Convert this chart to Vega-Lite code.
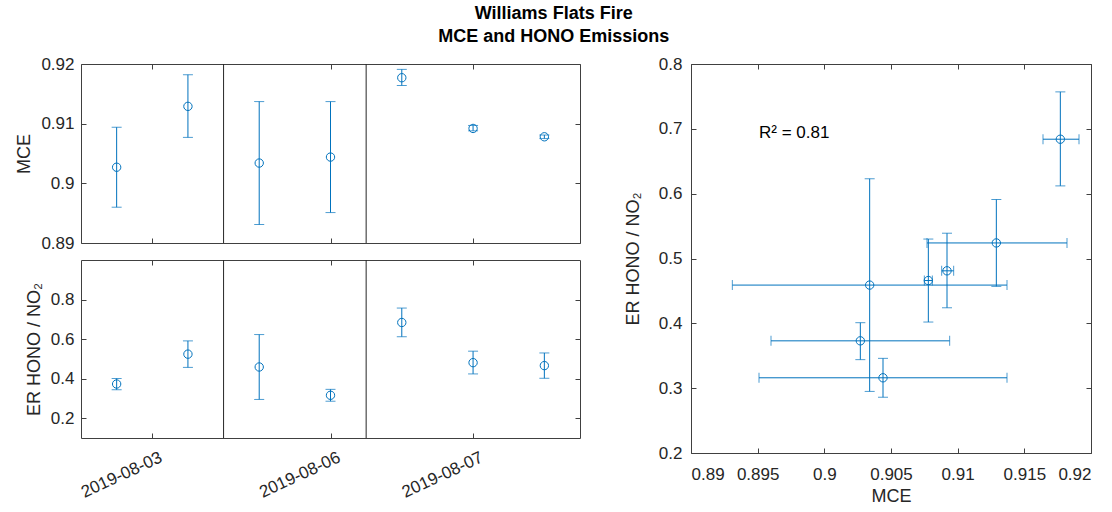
{
  "$schema": "https://vega.github.io/schema/vega-lite/v6.json",
  "title": {"text": ["Williams Flats Fire", "MCE and HONO Emissions"], "fontSize": 18, "fontWeight": "bold", "font": "Liberation Sans", "color": "#000000", "lineHeight": 23, "anchor": "middle", "offset": 9},
  "padding": {"left": 15, "right": 8, "top": 4, "bottom": 4},
  "datasets": {
    "samples": [
      {"sample": 1, "date": "2019-08-03", "mce": 0.9027, "mce_lo": 0.8960, "mce_hi": 0.9094, "er": 0.373, "er_lo": 0.344, "er_hi": 0.401},
      {"sample": 2, "date": "2019-08-03", "mce": 0.9129, "mce_lo": 0.9077, "mce_hi": 0.9182, "er": 0.524, "er_lo": 0.457, "er_hi": 0.591},
      {"sample": 3, "date": "2019-08-06", "mce": 0.9034, "mce_lo": 0.8931, "mce_hi": 0.9137, "er": 0.459, "er_lo": 0.295, "er_hi": 0.623},
      {"sample": 4, "date": "2019-08-06", "mce": 0.9044, "mce_lo": 0.8951, "mce_hi": 0.9137, "er": 0.316, "er_lo": 0.286, "er_hi": 0.346},
      {"sample": 5, "date": "2019-08-07", "mce": 0.9177, "mce_lo": 0.9164, "mce_hi": 0.9191, "er": 0.684, "er_lo": 0.612, "er_hi": 0.757},
      {"sample": 6, "date": "2019-08-07", "mce": 0.9092, "mce_lo": 0.9088, "mce_hi": 0.9097, "er": 0.481, "er_lo": 0.424, "er_hi": 0.539},
      {"sample": 7, "date": "2019-08-07", "mce": 0.9078, "mce_lo": 0.9075, "mce_hi": 0.9081, "er": 0.466, "er_lo": 0.402, "er_hi": 0.530}
    ]
  },
  "hconcat": [
    {
      "spacing": 7,
      "vconcat": [
        {
          "width": 499,
          "height": 179,
          "data": {"name": "samples"},
          "resolve": {"axis": {"x": "independent", "y": "independent"}},
          "layer": [
            {
              "data": {"values": [{}]},
              "mark": {"type": "rule", "color": "#262626", "strokeWidth": 1},
              "encoding": {"x": {"datum": 2.5, "type": "quantitative", "scale": {"domain": [0.5, 7.5], "nice": false}, "axis": null}}
            },
            {
              "data": {"values": [{}]},
              "mark": {"type": "rule", "color": "#262626", "strokeWidth": 1},
              "encoding": {"x": {"datum": 4.5, "type": "quantitative", "scale": {"domain": [0.5, 7.5], "nice": false}, "axis": null}}
            },
            {
              "mark": {"type": "rule", "color": "#0072BD", "strokeWidth": 1},
              "encoding": {
                "x": {"field": "sample", "type": "quantitative", "scale": {"domain": [0.5, 7.5], "nice": false}, "axis": null},
                "y": {"field": "mce_lo", "type": "quantitative", "scale": {"domain": [0.89, 0.92], "nice": false, "zero": false}, "axis": null},
                "y2": {"field": "mce_hi"}
              }
            },
            {
              "mark": {"type": "tick", "orient": "horizontal", "size": 10, "thickness": 1, "color": "#0072BD"},
              "encoding": {
                "x": {"field": "sample", "type": "quantitative", "scale": {"domain": [0.5, 7.5], "nice": false}, "axis": null},
                "y": {"field": "mce_lo", "type": "quantitative", "scale": {"domain": [0.89, 0.92], "nice": false, "zero": false}, "axis": null}
              }
            },
            {
              "mark": {"type": "tick", "orient": "horizontal", "size": 10, "thickness": 1, "color": "#0072BD"},
              "encoding": {
                "x": {"field": "sample", "type": "quantitative", "scale": {"domain": [0.5, 7.5], "nice": false}, "axis": {"orient": "top", "values": [1.5, 4, 6], "labels": false, "title": null}},
                "y": {"field": "mce_hi", "type": "quantitative", "scale": {"domain": [0.89, 0.92], "nice": false, "zero": false}, "axis": {"orient": "right", "values": [0.89, 0.9, 0.91, 0.92], "labels": false, "title": null}}
              }
            },
            {
              "mark": {"type": "point", "shape": "circle", "filled": false, "size": 70, "strokeWidth": 1, "color": "#0072BD", "opacity": 1},
              "encoding": {
                "x": {"field": "sample", "type": "quantitative", "scale": {"domain": [0.5, 7.5], "nice": false}, "axis": {"orient": "bottom", "values": [1.5, 4, 6], "labels": false, "title": null}},
                "y": {"field": "mce", "type": "quantitative", "scale": {"domain": [0.89, 0.92], "nice": false, "zero": false}, "axis": {"orient": "left", "values": [0.89, 0.9, 0.91, 0.92], "format": ".2~f", "title": "MCE", "labelPadding": 12, "titlePadding": 7}}
              }
            }
          ]
        },
        {
          "width": 499,
          "height": 178,
          "data": {"name": "samples"},
          "resolve": {"axis": {"x": "independent", "y": "independent"}},
          "layer": [
            {
              "data": {"values": [{}]},
              "mark": {"type": "rule", "color": "#262626", "strokeWidth": 1},
              "encoding": {"x": {"datum": 2.5, "type": "quantitative", "scale": {"domain": [0.5, 7.5], "nice": false}, "axis": null}}
            },
            {
              "data": {"values": [{}]},
              "mark": {"type": "rule", "color": "#262626", "strokeWidth": 1},
              "encoding": {"x": {"datum": 4.5, "type": "quantitative", "scale": {"domain": [0.5, 7.5], "nice": false}, "axis": null}}
            },
            {
              "mark": {"type": "rule", "color": "#0072BD", "strokeWidth": 1},
              "encoding": {
                "x": {"field": "sample", "type": "quantitative", "scale": {"domain": [0.5, 7.5], "nice": false}, "axis": null},
                "y": {"field": "er_lo", "type": "quantitative", "scale": {"domain": [0.1, 1.0], "nice": false, "zero": false}, "axis": null},
                "y2": {"field": "er_hi"}
              }
            },
            {
              "mark": {"type": "tick", "orient": "horizontal", "size": 10, "thickness": 1, "color": "#0072BD"},
              "encoding": {
                "x": {"field": "sample", "type": "quantitative", "scale": {"domain": [0.5, 7.5], "nice": false}, "axis": null},
                "y": {"field": "er_lo", "type": "quantitative", "scale": {"domain": [0.1, 1.0], "nice": false, "zero": false}, "axis": null}
              }
            },
            {
              "mark": {"type": "tick", "orient": "horizontal", "size": 10, "thickness": 1, "color": "#0072BD"},
              "encoding": {
                "x": {"field": "sample", "type": "quantitative", "scale": {"domain": [0.5, 7.5], "nice": false}, "axis": {"orient": "top", "values": [1.5, 4, 6], "labels": false, "title": null}},
                "y": {"field": "er_hi", "type": "quantitative", "scale": {"domain": [0.1, 1.0], "nice": false, "zero": false}, "axis": {"orient": "right", "values": [0.2, 0.4, 0.6, 0.8], "labels": false, "title": null}}
              }
            },
            {
              "mark": {"type": "point", "shape": "circle", "filled": false, "size": 70, "strokeWidth": 1, "color": "#0072BD", "opacity": 1},
              "encoding": {
                "x": {"field": "sample", "type": "quantitative", "scale": {"domain": [0.5, 7.5], "nice": false}, "axis": {"orient": "bottom", "values": [1.5, 4, 6], "labelExpr": "datum.value == 1.5 ? '2019-08-03' : datum.value == 4 ? '2019-08-06' : '2019-08-07'", "labelAngle": -25, "labelAlign": "right", "labelBaseline": "top", "labelPadding": 16, "labelOffset": 5, "title": null}},
                "y": {"field": "er", "type": "quantitative", "scale": {"domain": [0.1, 1.0], "nice": false, "zero": false}, "axis": {"orient": "left", "values": [0.2, 0.4, 0.6, 0.8], "format": ".1f", "title": "ER HONO / NO₂", "labelPadding": 12, "titlePadding": 7}}
              }
            }
          ]
        }
      ]
    },
    {
      "width": 400,
      "height": 389,
      "data": {"name": "samples"},
      "resolve": {"axis": {"x": "independent", "y": "independent"}},
      "layer": [
        {
          "mark": {"type": "rule", "color": "#0072BD", "strokeWidth": 1},
          "encoding": {
            "x": {"field": "mce_lo", "type": "quantitative", "scale": {"domain": [0.89, 0.92], "nice": false, "zero": false}, "axis": null},
            "x2": {"field": "mce_hi"},
            "y": {"field": "er", "type": "quantitative", "scale": {"domain": [0.2, 0.8], "nice": false, "zero": false}, "axis": null}
          }
        },
        {
          "mark": {"type": "rule", "color": "#0072BD", "strokeWidth": 1},
          "encoding": {
            "x": {"field": "mce", "type": "quantitative", "scale": {"domain": [0.89, 0.92], "nice": false, "zero": false}, "axis": null},
            "y": {"field": "er_lo", "type": "quantitative", "scale": {"domain": [0.2, 0.8], "nice": false, "zero": false}, "axis": null},
            "y2": {"field": "er_hi"}
          }
        },
        {
          "mark": {"type": "tick", "orient": "horizontal", "size": 10, "thickness": 1, "color": "#0072BD"},
          "encoding": {
            "x": {"field": "mce", "type": "quantitative", "scale": {"domain": [0.89, 0.92], "nice": false, "zero": false}, "axis": null},
            "y": {"field": "er_lo", "type": "quantitative", "scale": {"domain": [0.2, 0.8], "nice": false, "zero": false}, "axis": null}
          }
        },
        {
          "mark": {"type": "tick", "orient": "horizontal", "size": 10, "thickness": 1, "color": "#0072BD"},
          "encoding": {
            "x": {"field": "mce", "type": "quantitative", "scale": {"domain": [0.89, 0.92], "nice": false, "zero": false}, "axis": null},
            "y": {"field": "er_hi", "type": "quantitative", "scale": {"domain": [0.2, 0.8], "nice": false, "zero": false}, "axis": null}
          }
        },
        {
          "mark": {"type": "tick", "orient": "vertical", "size": 10, "thickness": 1, "color": "#0072BD"},
          "encoding": {
            "x": {"field": "mce_lo", "type": "quantitative", "scale": {"domain": [0.89, 0.92], "nice": false, "zero": false}, "axis": null},
            "y": {"field": "er", "type": "quantitative", "scale": {"domain": [0.2, 0.8], "nice": false, "zero": false}, "axis": null}
          }
        },
        {
          "mark": {"type": "tick", "orient": "vertical", "size": 10, "thickness": 1, "color": "#0072BD"},
          "encoding": {
            "x": {"field": "mce_hi", "type": "quantitative", "scale": {"domain": [0.89, 0.92], "nice": false, "zero": false}, "axis": {"orient": "top", "values": [0.89, 0.895, 0.9, 0.905, 0.91, 0.915, 0.92], "labels": false, "title": null}},
            "y": {"field": "er", "type": "quantitative", "scale": {"domain": [0.2, 0.8], "nice": false, "zero": false}, "axis": {"orient": "right", "values": [0.2, 0.3, 0.4, 0.5, 0.6, 0.7, 0.8], "labels": false, "title": null}}
          }
        },
        {
          "mark": {"type": "point", "shape": "circle", "filled": false, "size": 70, "strokeWidth": 1, "color": "#0072BD", "opacity": 1},
          "encoding": {
            "x": {"field": "mce", "type": "quantitative", "scale": {"domain": [0.89, 0.92], "nice": false, "zero": false}, "axis": {"orient": "bottom", "values": [0.89, 0.895, 0.9, 0.905, 0.91, 0.915, 0.92], "format": ".3~f", "title": "MCE", "labelPadding": 18, "titlePadding": 5}},
            "y": {"field": "er", "type": "quantitative", "scale": {"domain": [0.2, 0.8], "nice": false, "zero": false}, "axis": {"orient": "left", "values": [0.2, 0.3, 0.4, 0.5, 0.6, 0.7, 0.8], "format": ".1f", "title": "ER HONO / NO₂", "labelPadding": 14, "titlePadding": 16}}
          }
        },
        {
          "data": {"values": [{"label": "R² = 0.81", "mx": 0.8951, "ey": 0.694}]},
          "mark": {"type": "text", "align": "left", "baseline": "middle", "fontSize": 17, "font": "Liberation Sans", "color": "#000000"},
          "encoding": {
            "x": {"field": "mx", "type": "quantitative", "scale": {"domain": [0.89, 0.92], "nice": false, "zero": false}, "axis": null},
            "y": {"field": "ey", "type": "quantitative", "scale": {"domain": [0.2, 0.8], "nice": false, "zero": false}, "axis": null},
            "text": {"field": "label"}
          }
        }
      ]
    }
  ],
  "spacing": 42,
  "config": {
    "font": "Liberation Sans",
    "view": {"stroke": "#404040", "strokeWidth": 1},
    "axis": {
      "grid": false,
      "domain": false,
      "tickSize": -5,
      "tickColor": "#404040",
      "labelFont": "Liberation Sans",
      "labelFontSize": 17,
      "labelColor": "#262626",
      "labelPadding": 0,
      "titleFont": "Liberation Sans",
      "titleFontSize": 18,
      "titleFontWeight": "normal",
      "titleColor": "#262626",
      "titlePadding": 8
    }
  }
}
